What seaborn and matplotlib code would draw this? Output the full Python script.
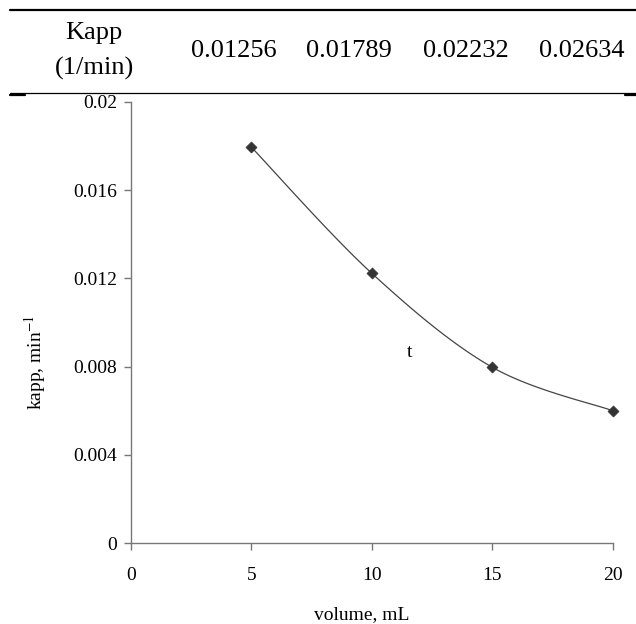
import numpy as np
import pandas as pd
import matplotlib
matplotlib.use('Agg')
import matplotlib.pyplot as plt
import seaborn as sns

# table row above the chart
table_header = ['Kapp', '(1/min)']
table_values = ['0.01256', '0.01789', '0.02232', '0.02634']

# chart data
volume = [5, 10, 15, 20]
kapp = [0.01795, 0.01223, 0.00797, 0.0060]

sns.set_style('ticks')
plt.rcParams['font.family'] = ['Liberation Serif', 'DejaVu Serif']
plt.rcParams['mathtext.fontset'] = 'stix'
plt.rcParams['text.color'] = 'black'
plt.rcParams['xtick.labelcolor'] = 'black'
plt.rcParams['ytick.labelcolor'] = 'black'


def smooth_curve(xs, ys, n=40):
    # Excel-like smoothed line (Catmull-Rom as cubic Bezier segments)
    p = np.column_stack([xs, ys]).astype(float)
    p = np.vstack([p[0], p, p[-1]])
    t = np.linspace(0, 1, n)[:, None]
    out = []
    for i in range(1, len(p) - 2):
        p0, p1, p2, p3 = p[i - 1], p[i], p[i + 1], p[i + 2]
        c1 = p1 + (p2 - p0) / 6
        c2 = p2 - (p3 - p1) / 6
        seg = ((1 - t) ** 3) * p1 + 3 * ((1 - t) ** 2) * t * c1 + 3 * (1 - t) * t ** 2 * c2 + t ** 3 * p2
        out.append(seg if i == 1 else seg[1:])
    out = np.vstack(out)
    return pd.DataFrame({'x': out[:, 0], 'y': out[:, 1]})


fig = plt.figure(figsize=(6.36, 6.24), dpi=100)
ax = fig.add_axes([131 / 636, 1 - 543 / 624, (612.7 - 131) / 636, (543 - 102) / 624])

curve = smooth_curve(volume, kapp)
sns.lineplot(data=curve, x='x', y='y', sort=False, estimator=None, color='#444444', lw=0.9, ax=ax)
sns.scatterplot(x=volume, y=kapp, marker='D', s=32, color='#333333', edgecolor='#333333',
                ax=ax, zorder=3, clip_on=False)

ax.set_xlim(0, 20)
ax.set_ylim(0, 0.02)
ax.set_xticks([0, 5, 10, 15, 20])
ax.set_yticks([0, 0.004, 0.008, 0.012, 0.016, 0.02])
ax.set_yticklabels(['0', '0.004', '0.008', '0.012', '0.016', '0.02'])
ax.tick_params(labelsize=14, length=5, width=1, color='#777777', direction='out', pad=5)
ax.tick_params(axis='x', pad=12)
for side in ['top', 'right']:
    ax.spines[side].set_visible(False)
for side in ['left', 'bottom']:
    ax.spines[side].set_color('#777777')
    ax.spines[side].set_linewidth(1)
ax.set_xlabel('')
ax.set_ylabel('')
ax.text(11.55, 0.00863, 't', fontsize=14, ha='center', va='center')

fig.text(362 / 636, 1 - 615 / 624, 'volume, mL', fontsize=14, ha='center', va='center')
fig.text(35 / 636, 1 - 362 / 624, 'kapp, min$^{-1}$', fontsize=14, ha='center', va='center', rotation=90)

# table lines and text
fig.add_artist(plt.Line2D([10 / 636, 1], [1 - 10 / 624] * 2, color='black', lw=1.6))
fig.add_artist(plt.Line2D([10 / 636, 1], [1 - 93 / 624] * 2, color='black', lw=0.9))
fig.add_artist(plt.Line2D([10 / 636, 25 / 636], [1 - 95 / 624] * 2, color='black', lw=1.6))
fig.add_artist(plt.Line2D([625 / 636, 1], [1 - 95 / 624] * 2, color='black', lw=1.6))
fig.text(94 / 636, 1 - 33 / 624, table_header[0], fontsize=19, ha='center', va='center')
fig.text(94 / 636, 1 - 68 / 624, table_header[1], fontsize=19, ha='center', va='center')
for xc, val in zip([234, 349, 466, 582], table_values):
    fig.text(xc / 636, 1 - 51 / 624, val, fontsize=19, ha='center', va='center')

fig.savefig('out.png', dpi=100)
